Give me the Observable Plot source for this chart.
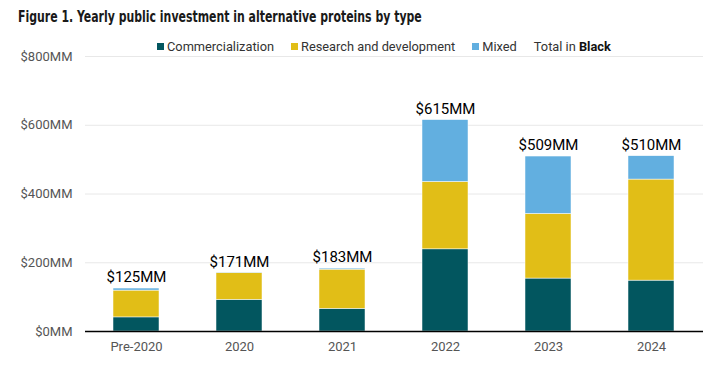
<!DOCTYPE html>
<html><head><meta charset="utf-8">
<script src="https://cdn.jsdelivr.net/npm/d3@7"></script>
<script src="https://cdn.jsdelivr.net/npm/@observablehq/plot@0.6"></script>
<style>
body{margin:0;background:#fff;font-family:Roboto,sans-serif;width:715px;height:367px;overflow:hidden;position:relative}
#title{height:30px;padding-left:18px;box-sizing:border-box;padding-top:7px;white-space:nowrap}
#title span{display:inline-block;font-family:"DejaVu Sans Condensed","DejaVu Sans",sans-serif;font-weight:bold;font-size:15px;color:#1a1a1a;transform:scaleX(0.81);transform-origin:0 50%}
#legend{position:absolute;top:39px;left:157px;font-size:12.8px;color:#333;display:flex;align-items:center;white-space:nowrap}
#legend .it{display:flex;align-items:center;margin-right:17px}
#legend .sw{width:7px;height:7px;margin-right:3px}
</style></head><body>
<div id="title"><span>Figure 1. Yearly public investment in alternative proteins by type</span></div>
<div id="legend"></div>
<div id="chart"></div>
<script>
const categories = ["Pre-2020","2020","2021","2022","2023","2024"];
const commercialization = [41,92,66,239,154,148];
const researchDev = [78,78,114,196,188,294];
const mixed = [6,1,3,180,167,68];
const totals = [125,171,183,615,509,510];
const seriesNames = ["Commercialization","Research and development","Mixed"];
const seriesColors = ["#02565f","#e1be17","#62afe0"];
const yTicks = [0,200,400,600,800];

const rows = [];
const seriesVals = [commercialization, researchDev, mixed];
categories.forEach((c,i)=>{
  seriesNames.forEach((s,j)=>rows.push({cat:c, type:s, value:seriesVals[j][i]}));
});
const totalRows = categories.map((c,i)=>({cat:c,total:totals[i]}));

const leg = document.getElementById("legend");
seriesNames.forEach((s,j)=>{
  const d=document.createElement("div");d.className="it";
  d.innerHTML=`<span class="sw" style="background:${seriesColors[j]}"></span>${s}`;
  leg.appendChild(d);
});
const tb=document.createElement("div");tb.className="it";tb.innerHTML='Total in&nbsp;<b style="color:#111">Black</b>';leg.appendChild(tb);

const chart = Plot.plot({
  width:715, height:337,
  marginTop:26, marginBottom:36, marginLeft:85, marginRight:12,
  style:{fontFamily:"Roboto, sans-serif", fontSize:"13px", color:"#555", background:"#fff"},
  x:{domain:categories, paddingInner:0.553, paddingOuter:0.2765, align:0.5, label:null, tickSize:0, tickPadding:10},
  y:{domain:[0,800], ticks:yTicks, label:null, tickSize:0, tickPadding:13, tickFormat:d=>`$${d}MM`},
  color:{domain:seriesNames, range:seriesColors},
  marks:[
    Plot.gridY(yTicks,{stroke:"#e8e8e8", strokeOpacity:1}),
    Plot.barY(rows, Plot.stackY({x:"cat", y:"value", fill:"type", order:seriesNames, stroke:"#fff", strokeWidth:0.5})),
    Plot.ruleY([0],{stroke:"#000", strokeWidth:1.5}),
    Plot.text(totalRows,{x:"cat", y:"total", text:d=>`$${d.total}MM`, dy:-11, fontSize:15, fill:"#000", fontWeight:400})
  ]
});
document.getElementById("chart").appendChild(chart);
</script>
</body></html>
